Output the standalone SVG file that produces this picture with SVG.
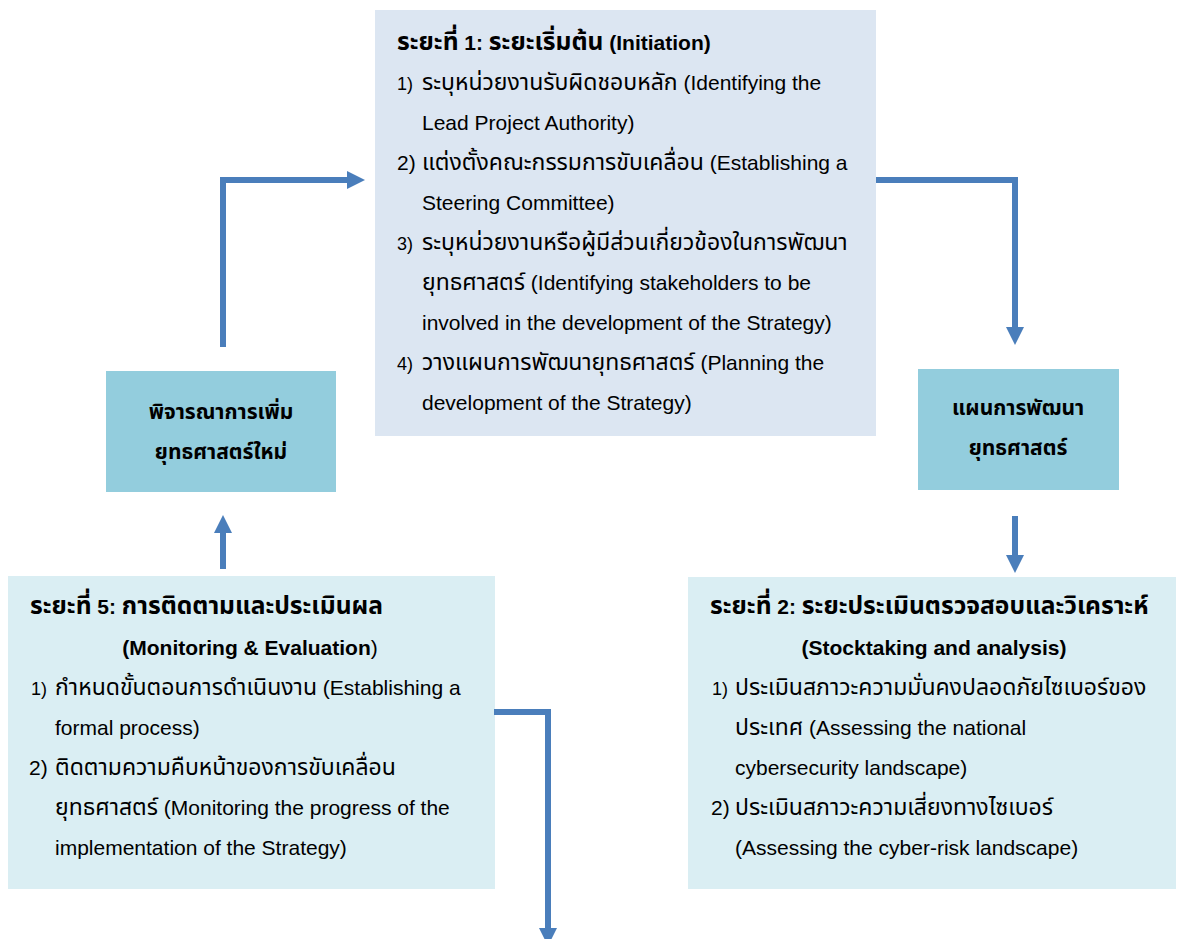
<svg xmlns="http://www.w3.org/2000/svg" width="1181" height="939" viewBox="0 0 1181 939">
  <defs>
    <style>
      .t { font-family: "Liberation Sans", "Noto Sans Thai", "Noto Sans", sans-serif; font-size: 21px; fill: #000; }
      .th { font-size: 23px; }
      .thb { font-size: 24.6px; }
      .b { font-weight: bold; }
      .n { font-size: 18px; }
      .c { text-anchor: middle; }
      .phase-top { fill: #DCE6F2; }
      .phase-low { fill: #DAEEF3; }
      .step { fill: #93CDDD; }
      .wire { fill: none; stroke: #4A7EBB; stroke-width: 6; }
      .head { fill: #4A7EBB; }
    </style>
  </defs>
  <rect width="1181" height="939" fill="#ffffff"/>

  <!-- Phase 1 -->
  <g id="phase1">
    <rect class="phase-top" x="375" y="10" width="501" height="426"/>
    <text class="t b" x="397" y="50"><tspan class="thb">ระยะที่</tspan> 1: <tspan class="thb">ระยะเริ่มต้น</tspan> (Initiation)</text>
    <text class="t n" x="397" y="90">1)</text>
    <text class="t" x="422" y="90"><tspan class="th">ระบุหน่วยงานรับผิดชอบหลัก</tspan> (Identifying the</text>
    <text class="t" x="422" y="130">Lead Project Authority)</text>
    <text class="t" x="397" y="170">2)</text>
    <text class="t" x="422" y="170"><tspan class="th">แต่งตั้งคณะกรรมการขับเคลื่อน</tspan> (Establishing a</text>
    <text class="t" x="422" y="210">Steering Committee)</text>
    <text class="t n" x="397" y="250">3)</text>
    <text class="t th" x="422" y="250">ระบุหน่วยงานหรือผู้มีส่วนเกี่ยวข้องในการพัฒนา</text>
    <text class="t" x="422" y="290"><tspan class="th">ยุทธศาสตร์</tspan> (Identifying stakeholders to be</text>
    <text class="t" x="422" y="330">involved in the development of the Strategy)</text>
    <text class="t n" x="397" y="370">4)</text>
    <text class="t" x="422" y="370"><tspan class="th">วางแผนการพัฒนายุทธศาสตร์</tspan> (Planning the</text>
    <text class="t" x="422" y="410">development of the Strategy)</text>
  </g>

  <!-- Strategy development plan -->
  <g id="plan">
    <rect class="step" x="918" y="369" width="201" height="121"/>
    <text class="t b c" x="1018" y="415">แผนการพัฒนา</text>
    <text class="t b c" x="1018" y="455">ยุทธศาสตร์</text>
  </g>

  <!-- Phase 2 -->
  <g id="phase2">
    <rect class="phase-low" x="688" y="577" width="488" height="312"/>
    <text class="t b" x="710" y="614"><tspan class="thb">ระยะที่</tspan> 2: <tspan class="thb">ระยะประเมินตรวจสอบและวิเคราะห์</tspan></text>
    <text class="t b c" x="934" y="655">(Stocktaking and analysis)</text>
    <text class="t n" x="712" y="695">1)</text>
    <text class="t th" x="735" y="695">ประเมินสภาวะความมั่นคงปลอดภัยไซเบอร์ของ</text>
    <text class="t" x="735" y="735"><tspan class="th">ประเทศ</tspan> (Assessing the national</text>
    <text class="t" x="735" y="775">cybersecurity landscape)</text>
    <text class="t" x="711" y="815">2)</text>
    <text class="t th" x="735" y="815">ประเมินสภาวะความเสี่ยงทางไซเบอร์</text>
    <text class="t" x="735" y="855">(Assessing the cyber-risk landscape)</text>
  </g>

  <!-- Phase 5 -->
  <g id="phase5">
    <rect class="phase-low" x="8" y="576" width="487" height="313"/>
    <text class="t b" x="30" y="614"><tspan class="thb">ระยะที่</tspan> 5: <tspan class="thb">การติดตามและประเมินผล</tspan></text>
    <text class="t c" x="250" y="655"><tspan class="b">(Monitoring &amp; Evaluation</tspan>)</text>
    <text class="t n" x="31" y="695">1)</text>
    <text class="t" x="55" y="695"><tspan class="th">กำหนดขั้นตอนการดำเนินงาน</tspan> (Establishing a</text>
    <text class="t" x="55" y="735">formal process)</text>
    <text class="t" x="29" y="775">2)</text>
    <text class="t th" x="55" y="775">ติดตามความคืบหน้าของการขับเคลื่อน</text>
    <text class="t" x="55" y="815"><tspan class="th">ยุทธศาสตร์</tspan> (Monitoring the progress of the</text>
    <text class="t" x="55" y="855">implementation of the Strategy)</text>
  </g>

  <!-- New strategy consideration -->
  <g id="review">
    <rect class="step" x="106" y="371" width="230" height="121"/>
    <text class="t b c" x="221" y="419">พิจารณาการเพิ่ม</text>
    <text class="t b c" x="221" y="459">ยุทธศาสตร์ใหม่</text>
  </g>

  <!-- Connectors -->
  <g id="connectors">
    <polyline class="wire" points="223,347 223,180 348,180"/>
    <polygon class="head" points="347,171 365,180 347,189"/>
    <polyline class="wire" points="876,180 1015,180 1015,328"/>
    <polygon class="head" points="1006,327 1024,327 1015,345"/>
    <line class="wire" x1="1015" y1="516" x2="1015" y2="556"/>
    <polygon class="head" points="1006,555 1024,555 1015,573"/>
    <line class="wire" x1="223" y1="569" x2="223" y2="532"/>
    <polygon class="head" points="214,533 232,533 223,515"/>
    <polyline class="wire" points="494,712 548,712 548,929"/>
    <polygon class="head" points="539,928 557,928 548,946"/>
  </g>
</svg>
